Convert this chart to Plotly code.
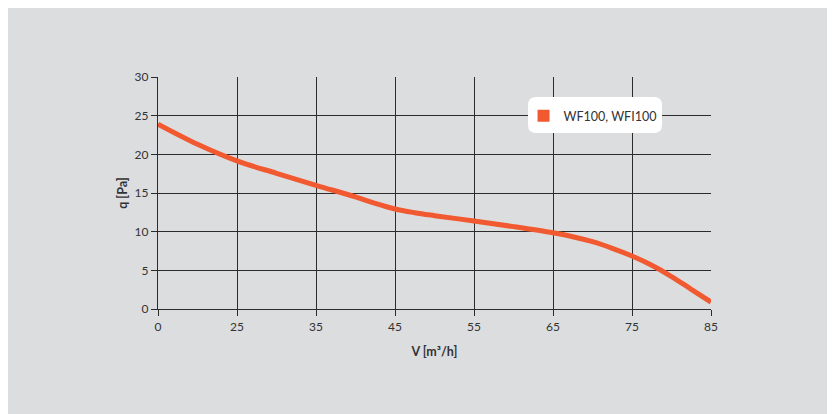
import plotly.graph_objects as go

# Data (x positions are slots on an evenly spaced V axis)
tick_labels = ["0", "25", "35", "45", "55", "65", "75", "85"]
x_pos = [0, 0.5, 1, 1.5, 2, 2.5, 2.75, 3, 3.25, 3.5, 4, 4.5, 5, 5.25, 5.5, 5.75,
         6, 6.25, 6.5, 6.75, 7]
q_vals = [23.9, 21.3, 19.15, 17.55, 16.0, 14.5, 13.65, 12.93, 12.45, 12.07, 11.38, 10.65,
          9.85, 9.35, 8.7, 7.85, 6.85, 5.65, 4.2, 2.55, 0.9]
series_name = "WF100, WFI100"

ORANGE = "#f15a30"
BG = "#dcdddf"
GRID = "#2b2b2b"
FONT = "Lato, 'Open Sans', sans-serif"

fig = go.Figure()
fig.add_trace(go.Scatter(
    x=x_pos, y=q_vals, mode="lines",
    line=dict(color=ORANGE, width=5, shape="spline", smoothing=1.0),
    showlegend=False, hoverinfo="skip",
))
fig.add_trace(go.Scatter(
    x=[None], y=[None], mode="markers", name=series_name,
    marker=dict(symbol="square", size=12, color=ORANGE),
))

# rounded white legend box (paper coordinates)
x0, x1, y0, y1 = 0.6691, 0.9114, 0.7586, 0.9138
rx, ry = 0.0145, 0.0345
path = (f"M {x0+rx},{y0} L {x1-rx},{y0} Q {x1},{y0} {x1},{y0+ry} "
        f"L {x1},{y1-ry} Q {x1},{y1} {x1-rx},{y1} L {x0+rx},{y1} "
        f"Q {x0},{y1} {x0},{y1-ry} L {x0},{y0+ry} Q {x0},{y0} {x0+rx},{y0} Z")

fig.update_layout(
    width=835, height=414, autosize=False,
    paper_bgcolor=BG, plot_bgcolor=BG,
    margin=dict(l=150, r=132, t=69, b=113, pad=0),
    font=dict(family=FONT, size=12, color="#333333"),
    shapes=[dict(type="path", path=path, xref="paper", yref="paper",
                 fillcolor="white", line=dict(width=0), layer="above")],
    legend=dict(
        x=0.661, y=0.896, xanchor="left", yanchor="top",
        bgcolor="rgba(0,0,0,0)", borderwidth=0,
        font=dict(size=12.5, color="#333333"),
        itemwidth=30, tracegroupgap=0,
    ),
    xaxis=dict(
        range=[0, 7], tickmode="array", tickvals=list(range(len(tick_labels))),
        ticktext=tick_labels, showgrid=True, gridcolor=GRID, gridwidth=1.3,
        showline=True, linecolor=GRID, linewidth=1.3, zeroline=False,
        ticks="outside", ticklen=6, tickcolor=GRID, tickwidth=1.3,
        tickfont=dict(size=12, color="#333333"),
        title=dict(text="<b>V [m³/h]</b>", font=dict(size=12.5, color="#333333"), standoff=14),
        fixedrange=True,
    ),
    yaxis=dict(
        range=[0, 30], tickmode="linear", dtick=5, showgrid=True, gridcolor=GRID,
        gridwidth=1.3, showline=True, linecolor=GRID, linewidth=1.3, zeroline=False,
        ticks="outside", ticklen=6, tickcolor=GRID, tickwidth=1.3,
        tickfont=dict(size=12, color="#333333"),
        title=dict(text="<b>q [Pa]</b>", font=dict(size=12.5, color="#333333"), standoff=4),
        fixedrange=True,
    ),
)

fig.write_html("out.html")
